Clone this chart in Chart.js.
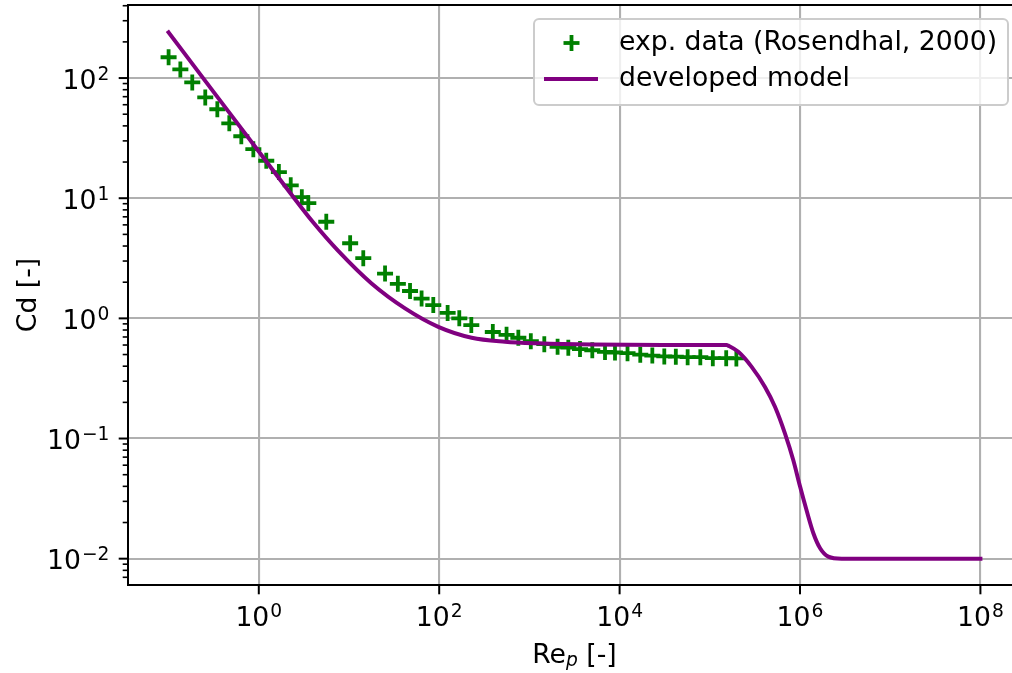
<!DOCTYPE html>
<html>
<head>
<meta charset="utf-8">
<script src="https://cdn.jsdelivr.net/npm/chart.js@4"></script>
<style>
  html, body { margin: 0; padding: 0; overflow: hidden; background: #fff; }
  #contenedor { width: 1030px; height: 673px; }
</style>
</head>
<body>
<div id="contenedor"><canvas id="plot1" width="1030" height="673"></canvas></div>
<script>
let expRe = [0.1, 0.135, 0.183, 0.255, 0.347, 0.471, 0.64, 0.87, 1.21, 1.67, 2.26, 3.0, 3.54, 5.6, 10.3, 14.4, 25.1, 34.8, 47.5, 63.8,
  86, 124, 167, 227, 393, 558, 754, 1037, 1463, 2054, 2700, 3640, 4980, 6890, 8890, 12240, 16950, 23050, 31300, 42000,
  56800, 78500, 108000, 152000, 197000];
let expCd = [149, 118, 92, 69, 55, 42, 32.8, 25.6, 20.5, 16.5, 12.8, 10.2, 9.1, 6.37, 4.22, 3.17, 2.36, 1.94, 1.69, 1.46,
  1.29, 1.11, 1.0, 0.88, 0.77, 0.73, 0.69, 0.646, 0.61, 0.58, 0.57, 0.555, 0.543, 0.526, 0.52, 0.513, 0.499, 0.49, 0.482, 0.48,
  0.475, 0.475, 0.466, 0.466, 0.464];

// modelo desarrollado
let modeloRe = [0.1, 0.3, 1, 2.2, 4, 7.6, 17.8, 41.8, 97.7, 229, 536, 1256, 5000, 30000, 154000, 160000, 207000, 291000, 409000,
  528000, 682000, 843000, 1000000, 1180000, 1410000, 1670000, 2060000, 2890000, 1e8];
let modeloCd = [240, 80.5, 24.5, 11.2, 6.3, 3.64, 1.95, 1.21, 0.85, 0.69, 0.64, 0.62, 0.605, 0.6, 0.6, 0.593, 0.527, 0.395, 0.269,
  0.184, 0.110, 0.066, 0.040, 0.0254, 0.0162, 0.0122, 0.0104, 0.0100, 0.01];

// marcas de los ejes
let ticksX = [1, 1e2, 1e4, 1e6, 1e8];
let exponentesX = ['0', '2', '4', '6', '8'];
let ticksY = [1e-2, 1e-1, 1, 1e1, 1e2];
let exponentesY = ['\u22122', '\u22121', '0', '1', '2'];
let etiquetasLeyenda = ['exp. data (Rosendhal, 2000)', 'developed model'];

let FUENTE = '"DejaVu Sans", sans-serif';
let TAM = 26.67;      // 10 pt
let TAM_SUP = 18.67;  // exponentes / subindices
let VERDE = '#008000';
let MORADO = '#800080';

let puntosExp = expRe.map((re, i) => ({x: re, y: expCd[i]}));
let puntosModelo = modeloRe.map((re, i) => ({x: re, y: modeloCd[i]}));

// escribe "10" con su exponente
let potencia = (ctx, exp, x, yBase, alinear) => {
  ctx.font = TAM + 'px ' + FUENTE;
  let wBase = ctx.measureText('10').width;
  ctx.font = TAM_SUP + 'px ' + FUENTE;
  let wExp = ctx.measureText(exp).width;
  let x0 = alinear === 'right' ? x - wBase - wExp - 1 : x - (wBase + wExp + 1) / 2;
  ctx.textAlign = 'left';
  ctx.textBaseline = 'alphabetic';
  ctx.font = TAM + 'px ' + FUENTE;
  ctx.fillText('10', x0, yBase);
  ctx.font = TAM_SUP + 'px ' + FUENTE;
  ctx.fillText(exp, x0 + wBase + 1, yBase - 9);
};

let linea = (ctx, x1, y1, x2, y2) => {
  ctx.beginPath();
  ctx.moveTo(x1, y1);
  ctx.lineTo(x2, y2);
  ctx.stroke();
};

let decoracion = {
  id: 'decoracion',
  afterDraw: (chart) => {
    let ctx = chart.ctx;
    let area = chart.chartArea;
    let ejeX = chart.scales.x;
    let ejeY = chart.scales.y;
    ctx.save();
    ctx.fillStyle = '#000';
    ctx.strokeStyle = '#000';

    // marcas menores del eje y
    ctx.lineWidth = 1.6;
    for (let k = -3; k <= 2; k++) {
      for (let m = 2; m <= 9; m++) {
        let v = m * Math.pow(10, k);
        if (v < ejeY.min || v > ejeY.max) continue;
        let py = ejeY.getPixelForValue(v);
        linea(ctx, area.left, py, area.left - 5.3, py);
      }
    }

    // marcas mayores y etiquetas
    ctx.lineWidth = 2;
    ticksY.forEach((v, i) => {
      let py = ejeY.getPixelForValue(v);
      linea(ctx, area.left, py, area.left - 9.3, py);
      potencia(ctx, exponentesY[i], area.left - 18.6, py + 10.5, 'right');
    });
    ticksX.forEach((v, i) => {
      let px = ejeX.getPixelForValue(v);
      linea(ctx, px, area.bottom, px, area.bottom + 9.3);
      potencia(ctx, exponentesX[i], px, 626, 'center');
    });

    // ejes (spines)
    ctx.lineWidth = 2;
    ctx.strokeRect(area.left, area.top, area.right - area.left, area.bottom - area.top);

    // titulo del eje x: Re_p [-]
    ctx.font = TAM + 'px ' + FUENTE;
    let w1 = ctx.measureText('Re').width;
    let w3 = ctx.measureText(' [-]').width;
    ctx.font = 'italic ' + TAM_SUP + 'px ' + FUENTE;
    let w2 = ctx.measureText('p').width;
    let cx = (area.left + area.right) / 2;
    let x0 = cx - (w1 + w2 + w3) / 2;
    ctx.textAlign = 'left';
    ctx.textBaseline = 'alphabetic';
    ctx.font = TAM + 'px ' + FUENTE;
    ctx.fillText('Re', x0, 662.5);
    ctx.font = 'italic ' + TAM_SUP + 'px ' + FUENTE;
    ctx.fillText('p', x0 + w1, 665.5);
    ctx.font = TAM + 'px ' + FUENTE;
    ctx.fillText(' [-]', x0 + w1 + w2, 662.5);

    // titulo del eje y
    ctx.save();
    ctx.translate(29, (area.top + area.bottom) / 2);
    ctx.rotate(-Math.PI / 2);
    ctx.textAlign = 'center';
    ctx.textBaseline = 'middle';
    ctx.fillText('Cd [-]', 0, 0);
    ctx.restore();

    // leyenda
    ctx.beginPath();
    ctx.roundRect(534, 19, 474, 86, 5);
    ctx.fillStyle = 'rgba(255,255,255,0.8)';
    ctx.fill();
    ctx.strokeStyle = '#cccccc';
    ctx.lineWidth = 2;
    ctx.stroke();

    ctx.strokeStyle = VERDE;
    ctx.lineWidth = 3.8;
    linea(ctx, 571.5 - 8, 43, 571.5 + 8, 43);
    linea(ctx, 571.5, 43 - 8, 571.5, 43 + 8);
    ctx.strokeStyle = MORADO;
    ctx.lineWidth = 4;
    ctx.lineCap = 'square';
    linea(ctx, 546, 79, 596, 79);

    ctx.fillStyle = '#000';
    ctx.font = TAM + 'px ' + FUENTE;
    ctx.textAlign = 'left';
    ctx.textBaseline = 'middle';
    ctx.fillText(etiquetasLeyenda[0], 619, 43);
    ctx.fillText(etiquetasLeyenda[1], 619, 79);
    ctx.restore();
  }
};

let plotRef = document.getElementById('plot1');

let config = {
  type: 'scatter',
  data: {
    datasets: [
      {
        label: etiquetasLeyenda[0],
        data: puntosExp,
        pointStyle: 'cross',
        pointRadius: 8,
        pointHoverRadius: 8,
        borderColor: VERDE,
        backgroundColor: VERDE,
        pointBorderWidth: 3.8,
        borderWidth: 3.8,
        order: 2
      },
      {
        label: etiquetasLeyenda[1],
        data: puntosModelo,
        showLine: true,
        borderColor: MORADO,
        backgroundColor: MORADO,
        borderWidth: 4,
        borderCapStyle: 'square',
        pointRadius: 0,
        pointHoverRadius: 0,
        cubicInterpolationMode: 'monotone',
        order: 1
      }
    ]
  },
  options: {
    responsive: false,
    animation: false,
    devicePixelRatio: 1,
    layout: { autoPadding: false, padding: { left: 0, top: 5, right: 9, bottom: 0 } },
    plugins: {
      legend: { display: false },
      tooltip: { enabled: false }
    },
    scales: {
      x: {
        type: 'logarithmic',
        position: 'bottom',
        min: Math.pow(10, -1.45),
        max: Math.pow(10, 8.45),
        afterBuildTicks: (eje) => { eje.ticks = ticksX.map(v => ({value: v})); },
        afterFit: (eje) => { eje.height = 88; },
        ticks: { display: false },
        grid: { color: '#b0b0b0', lineWidth: 2.1, drawTicks: false },
        border: { display: false }
      },
      y: {
        type: 'logarithmic',
        position: 'left',
        min: Math.pow(10, -2.219),
        max: Math.pow(10, 2.608),
        afterBuildTicks: (eje) => { eje.ticks = ticksY.map(v => ({value: v})); },
        afterFit: (eje) => { eje.width = 128; },
        ticks: { display: false },
        grid: { color: '#b0b0b0', lineWidth: 2.1, drawTicks: false },
        border: { display: false }
      }
    }
  },
  plugins: [decoracion]
};

let chart1 = new Chart(plotRef, config);
</script>
</body>
</html>
